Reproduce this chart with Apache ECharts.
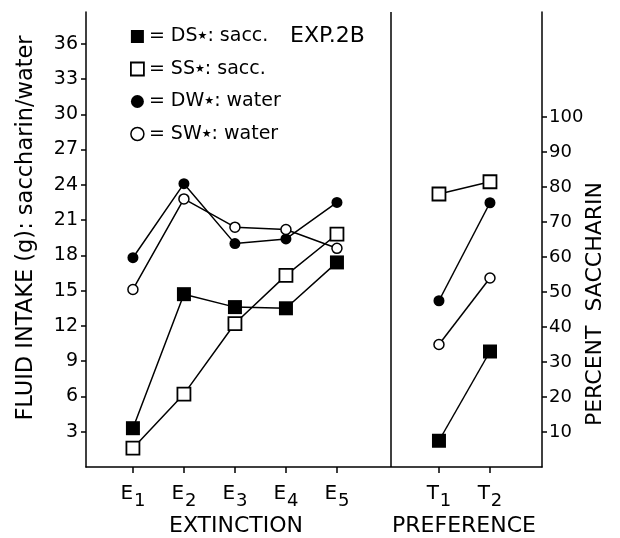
<!DOCTYPE html>
<html>
<head>
<meta charset="utf-8">
<script src="https://cdn.jsdelivr.net/npm/echarts@6/dist/echarts.min.js"></script>
<style>
  html, body { margin: 0; padding: 0; background: #fff; }
  #main { width: 620px; height: 538px; }
</style>
</head>
<body>
<div id="main"></div>
<script>
// groups
var groupNames = ['DS', 'SS', 'DW', 'SW'];
var groupFluid = ['sacc.', 'sacc.', 'water', 'water'];

// extinction days (left axis, g)
var extLabels = ['E1', 'E2', 'E3', 'E4', 'E5'];
var extPos = [1, 2, 3, 4, 5];
var extDS = [3.3, 14.7, 13.6, 13.5, 17.4];
var extSS = [1.6, 6.2, 12.2, 16.3, 19.8];
var extDW = [17.8, 24.1, 19.0, 19.4, 22.5];
var extSW = [15.1, 22.8, 20.4, 20.2, 18.6];

// preference tests (right axis, percent saccharin)
var prefLabels = ['T1', 'T2'];
var prefPos = [7, 8];
var prefDS = [7.5, 33];
var prefSS = [78, 81.5];
var prefDW = [47.5, 75.5];
var prefSW = [35, 54];

// tick labels
var leftTicks = [3, 6, 9, 12, 15, 18, 21, 24, 27, 30, 33, 36];
var rightTicks = [10, 20, 30, 40, 50, 60, 70, 80, 90, 100];
var dividerPos = 6.06;

var FONT = "'DejaVu Sans', sans-serif";

function pairs(xs, ys) {
  var res = [];
  for (var i = 0; i < xs.length; i++) {
    res.push([xs[i], ys[i]]);
  }
  return res;
}

// marker style per group
var styles = {
  DS: { symbol: 'rect', size: 14, item: { color: '#000' } },
  SS: { symbol: 'rect', size: 13, item: { color: '#fff', borderColor: '#000', borderWidth: 1.8 } },
  DW: { symbol: 'circle', size: 11, item: { color: '#000' } },
  SW: { symbol: 'circle', size: 10, item: { color: '#fff', borderColor: '#000', borderWidth: 1.5 } }
};

function makeSeries(name, data, yIdx) {
  var st = styles[name];
  return {
    name: name,
    type: 'line',
    yAxisIndex: yIdx,
    data: data,
    symbol: st.symbol,
    symbolSize: st.size,
    itemStyle: st.item,
    lineStyle: { color: '#000', width: 1.5 },
    z: 3
  };
}

var tickLabelMap = {};
extPos.forEach(function (p, i) { tickLabelMap[p] = extLabels[i]; });
prefPos.forEach(function (p, i) { tickLabelMap[p] = prefLabels[i]; });

var series = [
  makeSeries('DS', pairs(extPos, extDS), 0),
  makeSeries('SS', pairs(extPos, extSS), 0),
  makeSeries('DW', pairs(extPos, extDW), 0),
  makeSeries('SW', pairs(extPos, extSW), 0),
  makeSeries('DS', pairs(prefPos, prefDS), 1),
  makeSeries('SS', pairs(prefPos, prefSS), 1),
  makeSeries('DW', pairs(prefPos, prefDW), 1),
  makeSeries('SW', pairs(prefPos, prefSW), 1)
];
// divider between the two panels
series[0].markLine = {
  silent: true,
  symbol: 'none',
  label: { show: false },
  lineStyle: { color: '#000', width: 1.5, type: 'solid' },
  data: [{ xAxis: dividerPos }]
};

var myChart = echarts.init(document.getElementById('main'));
var option = {
  animation: false,
  backgroundColor: '#fff',
  textStyle: { fontFamily: FONT, color: '#000' },
  grid: { left: 86, right: 78, top: 12, bottom: 71 },
  legend: {
    orient: 'vertical',
    left: 125,
    top: 22,
    itemWidth: 13,
    itemHeight: 13,
    itemGap: 13.5,
    data: groupNames.map(function (n) {
      var st = styles[n];
      return { name: n, icon: st.symbol, itemStyle: st.item };
    }),
    formatter: function (name) {
      var i = groupNames.indexOf(name);
      return '= ' + name + '{st|★}: ' + groupFluid[i];
    },
    textStyle: {
      fontFamily: FONT, fontSize: 19, color: '#000',
      rich: { st: { fontSize: 11, fontFamily: 'DejaVu Sans', color: '#000' } }
    }
  },
  xAxis: {
    type: 'value',
    min: 0.08,
    max: 9.02,
    splitLine: { show: false },
    axisLine: { lineStyle: { color: '#000', width: 1.5 } },
    axisTick: { customValues: extPos.concat(prefPos), length: 6, lineStyle: { color: '#000', width: 1.5 } },
    axisLabel: {
      customValues: extPos.concat(prefPos),
      margin: 11,
      formatter: function (v) {
        var s = tickLabelMap[v] || '';
        return '{m|' + s.charAt(0) + '}{s|' + s.substring(1) + '}';
      },
      rich: {
        m: { fontSize: 20, fontFamily: FONT, color: '#000' },
        s: { fontSize: 18, fontFamily: FONT, color: '#000', padding: [14, 0, 0, 1] }
      }
    }
  },
  yAxis: [
    {
      type: 'value',
      min: 0,
      max: 38.7,
      position: 'left',
      splitLine: { show: false },
      axisLine: { show: true, lineStyle: { color: '#000', width: 1.5 } },
      axisTick: { show: true, customValues: leftTicks, length: 5, lineStyle: { color: '#000', width: 1.5 } },
      axisLabel: { customValues: leftTicks, fontSize: 19, margin: 8, color: '#000', fontFamily: FONT }
    },
    {
      type: 'value',
      min: 0,
      max: 130,
      position: 'right',
      splitLine: { show: false },
      axisLine: { show: true, lineStyle: { color: '#000', width: 1.5 } },
      axisTick: { show: true, customValues: rightTicks, length: 5, lineStyle: { color: '#000', width: 1.5 } },
      axisLabel: { customValues: rightTicks, fontSize: 18, margin: 7, color: '#000', fontFamily: FONT }
    }
  ],
  graphic: [
    {
      type: 'text', left: 290, top: 25,
      style: { text: 'EXP.2B', fontSize: 22, fontFamily: FONT, fill: '#000' }
    },
    {
      type: 'text', x: 236, y: 526,
      style: { text: 'EXTINCTION', fontSize: 22, fontFamily: FONT, fill: '#000', align: 'center', verticalAlign: 'middle' }
    },
    {
      type: 'text', x: 464, y: 526,
      style: { text: 'PREFERENCE', fontSize: 22, fontFamily: FONT, fill: '#000', align: 'center', verticalAlign: 'middle' }
    },
    {
      type: 'text', x: 26, y: 228, rotation: Math.PI / 2,
      style: { text: 'FLUID INTAKE (g): saccharin/water', fontSize: 22.5, fontFamily: FONT, fill: '#000', align: 'center', verticalAlign: 'middle' }
    },
    {
      type: 'text', x: 595, y: 304, rotation: Math.PI / 2,
      style: { text: 'PERCENT  SACCHARIN', fontSize: 22, fontFamily: FONT, fill: '#000', align: 'center', verticalAlign: 'middle' }
    }
  ],
  series: series
};
myChart.setOption(option);
</script>
</body>
</html>
